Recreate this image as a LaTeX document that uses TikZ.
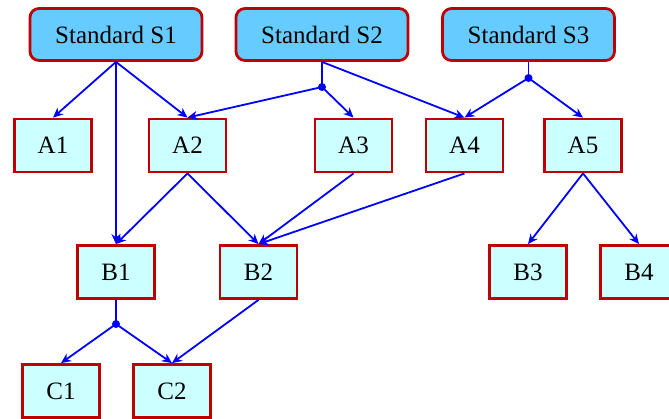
\documentclass[tikz,border=0pt]{standalone}
\usepackage{fontspec}
\setmainfont{Liberation Serif}
\usetikzlibrary{arrows.meta}
\definecolor{stdfill}{HTML}{66CCFF}
\definecolor{boxfill}{HTML}{CCFFFF}
\definecolor{boxline}{HTML}{C00000}
\tikzset{
  stdbox/.style={draw=boxline, fill=stdfill, line width=2.8pt, rounded corners=9pt,
    minimum width=172pt, minimum height=52pt, inner sep=0pt, font=\fontsize{25}{29}\selectfont},
  itembox/.style={draw=boxline, fill=boxfill, line width=2.8pt,
    minimum width=77pt, minimum height=53pt, inner sep=0pt, font=\fontsize{25}{29}\selectfont},
  conn/.style={draw=blue, line width=1.8pt},
  arr/.style={conn, -{Stealth[length=10pt,width=9pt]}},
  junc/.style={circle, fill=blue, inner sep=0pt, minimum size=8pt},
}
\begin{document}
\begin{tikzpicture}[x=1pt,y=-1pt]
\useasboundingbox (0,0) rectangle (669,418);
\begin{scope}
\clip (0,0) rectangle (669,418);
\node[stdbox] (S1) at (116,34.5) {Standard S1};
\node[stdbox] (S2) at (322,34.5) {Standard S2};
\node[stdbox] (S3) at (528.5,34.5) {Standard S3};
\node[itembox] (A1) at (53,145.5) {A1};
\node[itembox] (A2) at (187.5,145.5) {A2};
\node[itembox] (A3) at (353.5,145.5) {A3};
\node[itembox] (A4) at (464.5,145.5) {A4};
\node[itembox] (A5) at (583,145.5) {A5};
\node[itembox] (B1) at (116,272) {B1};
\node[itembox] (B2) at (258.5,272) {B2};
\node[itembox] (B3) at (528,272) {B3};
\node[itembox] (B4) at (639,272) {B4};
\node[itembox] (C1) at (61,391) {C1};
\node[itembox] (C2) at (172,391) {C2};
\node[junc] (J2) at (322,87) {};
\node[junc] (J3) at (528.5,78) {};
\node[junc] (J1) at (116,324) {};
\draw[arr] (S1.south) -- (A1.north);
\draw[arr] (S1.south) -- (A2.north);
\draw[arr] (S1.south) -- (B1.north);
\draw[conn] (S2.south) -- (J2.center);
\draw[arr] (J2.center) -- (A2.north);
\draw[arr] (J2.center) -- (A3.north);
\draw[arr] (S2.south) -- (A4.north);
\draw[conn] (S3.south) -- (J3.center);
\draw[arr] (J3.center) -- (A4.north);
\draw[arr] (J3.center) -- (A5.north);
\draw[arr] (A2.south) -- (B1.north);
\draw[arr] (A2.south) -- (B2.north);
\draw[arr] (A3.south) -- (B2.north);
\draw[arr] (A4.south) -- (B2.north);
\draw[arr] (A5.south) -- (B3.north);
\draw[arr] (A5.south) -- (B4.north);
\draw[conn] (B1.south) -- (J1.center);
\draw[arr] (J1.center) -- (C1.north);
\draw[arr] (J1.center) -- (C2.north);
\draw[arr] (B2.south) -- (C2.north);
\end{scope}
\end{tikzpicture}
\end{document}
